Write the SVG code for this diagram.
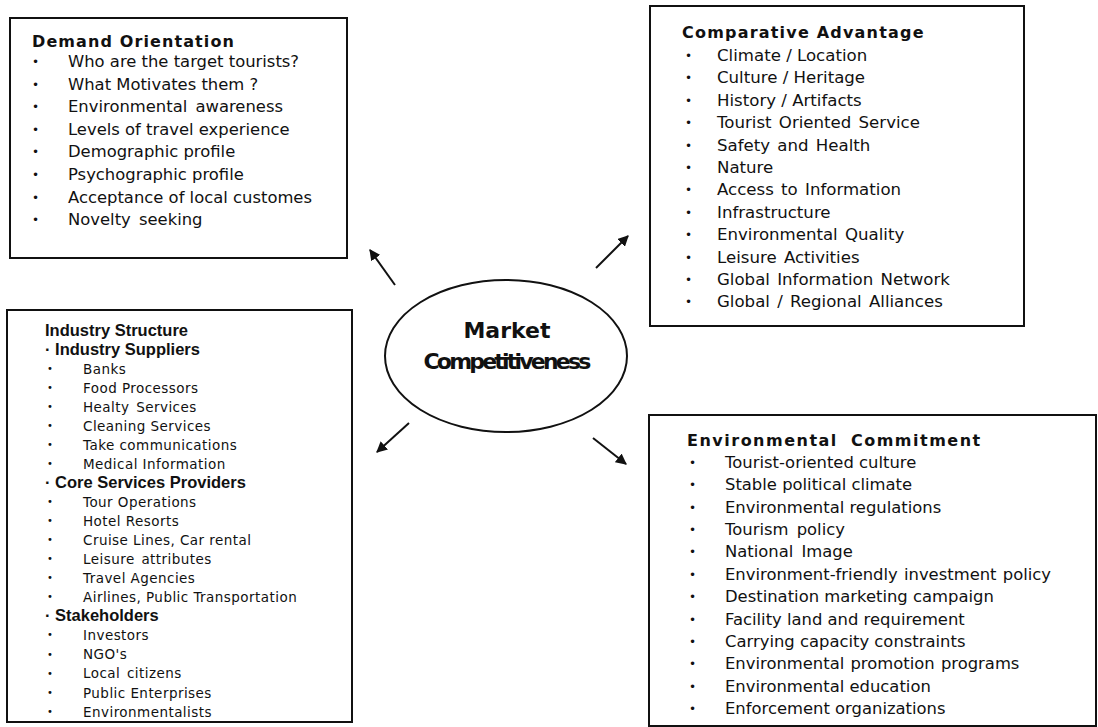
<svg xmlns="http://www.w3.org/2000/svg" width="1098" height="727" viewBox="0 0 1098 727">
<style>
.box{fill:#fff;stroke:#111;stroke-width:2}
.t{font-family:"DejaVu Sans",sans-serif;font-size:16.4px;fill:#111}
.h{font-family:"DejaVu Sans",sans-serif;font-size:16px;font-weight:bold;fill:#111;letter-spacing:1.1px}
.b{font-family:"DejaVu Sans",sans-serif;font-size:12px;fill:#111}
.s{font-family:"DejaVu Sans",sans-serif;font-size:13.5px;fill:#111;letter-spacing:0.45px}
.sh{font-family:"Liberation Sans",Arial,sans-serif;font-size:16.5px;font-weight:bold;fill:#111}
.m{font-family:"DejaVu Sans",sans-serif;font-size:22px;font-weight:bold;fill:#111;text-anchor:middle}
.c{stroke:#111;stroke-width:2;fill:none;marker-end:url(#ah)}
</style>
<defs>
<marker id="ah" viewBox="0 0 10 10" refX="9" refY="5" markerWidth="5.5" markerHeight="5.5" orient="auto" markerUnits="strokeWidth">
<path d="M0,0 L10,5 L0,10 z" fill="#111"/>
</marker>
</defs>
<rect width="1098" height="727" fill="#fff"/>

<g id="demand">
<rect class="box" x="10" y="18" width="337" height="240"/>
<text class="h" x="32" y="47">Demand Orientation</text>
<g class="b"><text x="32" y="66">•</text><text x="32" y="88.6">•</text><text x="32" y="111.2">•</text><text x="32" y="133.8">•</text><text x="32" y="156.4">•</text><text x="32" y="179">•</text><text x="32" y="201.6">•</text><text x="32" y="224.2">•</text></g>
<text class="t" x="68" y="67">Who are the target tourists?</text>
<text class="t" x="68" y="89.6">What Motivates them ?</text>
<text class="t" x="68" y="112.2" word-spacing="3">Environmental awareness</text>
<text class="t" x="68" y="134.8">Levels of travel experience</text>
<text class="t" x="68" y="157.4">Demographic profile</text>
<text class="t" x="68" y="180">Psychographic profile</text>
<text class="t" x="68" y="202.6">Acceptance of local customes</text>
<text class="t" x="68" y="225.2" word-spacing="3">Novelty seeking</text>
</g>

<g id="comparative">
<rect class="box" x="650" y="6" width="374" height="320"/>
<text class="h" x="682" y="38" style="letter-spacing:1.2px">Comparative Advantage</text>
<g class="b"><text x="685" y="60">•</text><text x="685" y="82.4">•</text><text x="685" y="104.8">•</text><text x="685" y="127.2">•</text><text x="685" y="149.6">•</text><text x="685" y="172">•</text><text x="685" y="194.4">•</text><text x="685" y="216.8">•</text><text x="685" y="239.2">•</text><text x="685" y="261.6">•</text><text x="685" y="284">•</text><text x="685" y="306.4">•</text></g>
<g>
<text class="t" x="717" y="61" style="font-size:16.6px">Climate / Location</text>
<text class="t" x="717" y="83.4" style="font-size:16.6px">Culture / Heritage</text>
<text class="t" x="717" y="105.8" style="font-size:16.6px">History / Artifacts</text>
<text class="t" x="717" y="128.2" style="font-size:16.6px" word-spacing="2">Tourist Oriented Service</text>
<text class="t" x="717" y="150.6" style="font-size:16.6px" word-spacing="2">Safety and Health</text>
<text class="t" x="717" y="173" style="font-size:16.6px">Nature</text>
<text class="t" x="717" y="195.4" style="font-size:16.6px" word-spacing="2">Access to Information</text>
<text class="t" x="717" y="217.8" style="font-size:16.6px">Infrastructure</text>
<text class="t" x="717" y="240.2" style="font-size:16.6px" word-spacing="2">Environmental Quality</text>
<text class="t" x="717" y="262.6" style="font-size:16.6px" word-spacing="2">Leisure Activities</text>
<text class="t" x="717" y="285" style="font-size:16.6px" word-spacing="2">Global Information Network</text>
<text class="t" x="717" y="307.4" style="font-size:16.6px" word-spacing="2">Global / Regional Alliances</text>
</g>
</g>

<g id="industry">
<rect class="box" x="7" y="310" width="345" height="412"/>
<text class="sh" x="45" y="336">Industry Structure</text>
<text class="sh" x="45" y="354.5">· Industry Suppliers</text>
<text class="sh" x="45" y="487.8">· Core Services Providers</text>
<text class="sh" x="45" y="621">· Stakeholders</text>
<g class="b" style="font-size:10px"><text x="47" y="372">•</text><text x="47" y="391">•</text><text x="47" y="410">•</text><text x="47" y="429">•</text><text x="47" y="448">•</text><text x="47" y="467">•</text><text x="47" y="505">•</text><text x="47" y="524">•</text><text x="47" y="543">•</text><text x="47" y="562.2">•</text><text x="47" y="581.2">•</text><text x="47" y="600.3">•</text><text x="47" y="638.4">•</text><text x="47" y="657.5">•</text><text x="47" y="676.5">•</text><text x="47" y="695.6">•</text><text x="47" y="714.6">•</text></g>
<text class="s" x="83" y="373.6">Banks</text>
<text class="s" x="83" y="392.6">Food Processors</text>
<text class="s" x="83" y="411.7" word-spacing="2">Healty Services</text>
<text class="s" x="83" y="430.7">Cleaning Services</text>
<text class="s" x="83" y="449.8">Take communications</text>
<text class="s" x="83" y="468.8">Medical Information</text>
<text class="s" x="83" y="506.9">Tour Operations</text>
<text class="s" x="83" y="526">Hotel Resorts</text>
<text class="s" x="83" y="545">Cruise Lines, Car rental</text>
<text class="s" x="83" y="564.1" word-spacing="2">Leisure attributes</text>
<text class="s" x="83" y="583.1">Travel Agencies</text>
<text class="s" x="83" y="602.2">Airlines, Public Transportation</text>
<text class="s" x="83" y="640.3">Investors</text>
<text class="s" x="83" y="659.4">NGO's</text>
<text class="s" x="83" y="678.4" word-spacing="2">Local citizens</text>
<text class="s" x="83" y="697.5">Public Enterprises</text>
<text class="s" x="83" y="716.5">Environmentalists</text>
</g>

<g id="environmental">
<rect class="box" x="649" y="415" width="447" height="311"/>
<text class="h" x="687" y="446" style="letter-spacing:1.5px" word-spacing="6">Environmental Commitment</text>
<g class="b"><text x="689" y="467">•</text><text x="689" y="489.4">•</text><text x="689" y="511.7">•</text><text x="689" y="534.1">•</text><text x="689" y="556.4">•</text><text x="689" y="578.8">•</text><text x="689" y="601.2">•</text><text x="689" y="623.5">•</text><text x="689" y="645.9">•</text><text x="689" y="668.2">•</text><text x="689" y="690.6">•</text><text x="689" y="713">•</text></g>
<text class="t" x="725" y="468">Tourist-oriented culture</text>
<text class="t" x="725" y="490.4">Stable political climate</text>
<text class="t" x="725" y="512.7">Environmental regulations</text>
<text class="t" x="725" y="535.1" word-spacing="3">Tourism policy</text>
<text class="t" x="725" y="557.4" word-spacing="3">National Image</text>
<text class="t" x="725" y="579.8" word-spacing="1">Environment-friendly investment policy</text>
<text class="t" x="725" y="602.2">Destination marketing campaign</text>
<text class="t" x="725" y="624.5">Facility land and requirement</text>
<text class="t" x="725" y="646.9">Carrying capacity constraints</text>
<text class="t" x="725" y="669.2" word-spacing="1">Environmental promotion programs</text>
<text class="t" x="725" y="691.6">Environmental education</text>
<text class="t" x="725" y="714">Enforcement organizations</text>
</g>

<g id="market">
<ellipse cx="506" cy="356" rx="121" ry="76" fill="#fff" stroke="#111" stroke-width="2"/>
<text class="m" x="507" y="338">Market</text>
<text class="m" x="506" y="369" style="letter-spacing:-2.8px">Competitiveness</text>
</g>

<g id="connectors">
<line class="c" x1="395" y1="285" x2="370" y2="250"/>
<line class="c" x1="596" y1="268" x2="628" y2="236"/>
<line class="c" x1="409" y1="423" x2="377" y2="452"/>
<line class="c" x1="593" y1="438" x2="626" y2="464"/>
</g>
</svg>
